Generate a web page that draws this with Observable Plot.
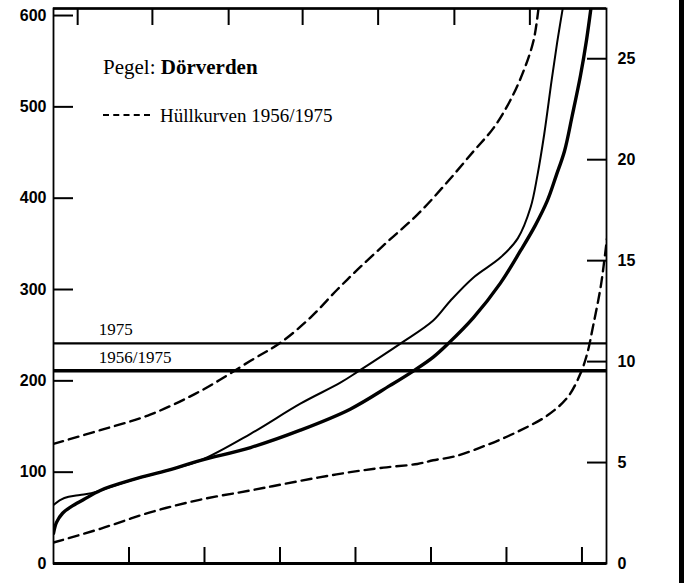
<!DOCTYPE html>
<html><head><meta charset="utf-8">
<script src="https://cdn.jsdelivr.net/npm/d3@7"></script>
<script src="https://cdn.jsdelivr.net/npm/@observablehq/plot@0.6"></script>
<style>
body{margin:0;background:#fff;}
#wrap{position:relative;width:689px;height:583px;overflow:hidden;background:#fff;}
#title{position:absolute;left:103px;top:57px;font-family:"Liberation Serif","Times New Roman",serif;font-size:21px;line-height:1;color:#000;white-space:nowrap;}
#legend{position:absolute;left:103px;top:106px;font-family:"Liberation Serif","Times New Roman",serif;font-size:19px;line-height:1;color:#000;white-space:nowrap;}
#legend .dash{display:inline-block;width:47px;margin-right:10px;vertical-align:0.3em;border-top:2px dashed #000;height:0;}
#bar{position:absolute;left:679px;top:0;width:5px;height:583px;background:#000;}
</style></head><body>
<div id="wrap">
  <div id="plot"></div>
  <div id="title">Pegel: <b>Dörverden</b></div>
  <div id="legend"><span class="dash"></span>Hüllkurven 1956/1975</div>
  <div id="bar"></div>
</div>
<script>
// Axis ticks
const leftTicks = [0, 100, 200, 300, 400, 500, 600];
const rightTicks = [0, 5, 10, 15, 20, 25];
const rightMax = 27.14;            // right-axis value at left-axis 600
const bottomTicks = [1, 2, 3, 4, 5, 6, 7];
const topTicks = [0.32, 1.31, 2.32, 3.30, 4.30, 5.31, 6.31];
const xMax = 7.325;
const yMax = 607.7;

// Reference levels
const refValues = [241, 211];
const refLabels = ["1975", "1956/1975"];
const refWidths = [2.4, 3.4];

// Upper envelope (dashed)
const upperX = [0, 0.62, 1.28, 1.95, 2.61, 3.01, 3.40, 3.76, 4.03, 4.42, 4.82, 5.22, 5.56, 5.83, 6.05, 6.23, 6.36, 6.43];
const upperY = [131, 146, 163, 189, 222, 242, 269, 300, 322, 352, 382, 418, 451, 477, 507, 540, 573, 612];

// Lower envelope (dashed)
const lowerX = [0, 0.62, 1.28, 1.95, 2.61, 3.05, 3.50, 3.93, 4.37, 4.82, 5.03, 5.30, 5.75, 6.19, 6.54, 6.81, 6.98, 7.07, 7.15, 7.25, 7.33];
const lowerY = [23, 38, 56, 70, 80, 87, 94, 100, 105, 109, 113, 117, 130, 146, 162, 182, 208, 230, 261, 304, 355];

// Thin curve
const thinX = [0, 0.10, 0.20, 0.35, 0.50, 0.62, 1.06, 1.51, 1.95, 2.61, 3.27, 3.80, 4.03, 4.60, 5.03, 5.26, 5.56, 5.92, 6.15, 6.32, 6.41, 6.50, 6.60, 6.68, 6.76];
const thinY = [64, 70, 73, 75, 77, 80, 92, 102, 113, 142, 175, 198, 210, 241, 266, 288, 313, 335, 356, 390, 425, 470, 530, 575, 615];

// Thick curve
const thickX = [0, 0.04, 0.12, 0.23, 0.40, 0.62, 1.06, 1.51, 1.95, 2.61, 3.27, 3.93, 4.46, 4.77, 5.03, 5.23, 5.56, 5.92, 6.19, 6.38, 6.54, 6.66, 6.77, 6.87, 6.98, 7.06, 7.13];
const thickY = [33, 45, 55, 62, 70, 80, 92, 102, 113, 127, 146, 169, 195, 211, 226, 241, 269, 307, 343, 370, 397, 425, 452, 490, 534, 573, 615];

const zip = (xs, ys) => xs.map((x, i) => ({x, y: ys[i]}));
const upper = zip(upperX, upperY);
const lower = zip(lowerX, lowerY);
const thin = zip(thinX, thinY);
const thick = zip(thickX, thickY);
const refs = refValues.map((v, i) => ({y: v, label: refLabels[i], w: refWidths[i]}));
const k = 600 / rightMax;

const chart = Plot.plot({
  width: 689,
  height: 583,
  marginLeft: 53,
  marginRight: 83,
  marginTop: 8,
  marginBottom: 20,
  style: {fontFamily: "'Liberation Sans', Arial, sans-serif", fontSize: "15px", color: "#000", background: "#fff"},
  x: {domain: [0, xMax], axis: null, label: null},
  y: {domain: [0, yMax], axis: null, label: null},
  marks: [
    Plot.ruleY(refs, {y: "y", strokeWidth: "w", stroke: "#000"}),
    Plot.text(refs, {y: "y", x: 0.60, text: "label", textAnchor: "start", lineAnchor: "bottom", dy: -8,
      fontFamily: "'Liberation Serif', 'Times New Roman', serif", fontSize: 17, fill: "#000"}),
    Plot.line(upper, {x: "x", y: "y", curve: "catmull-rom", stroke: "#000", strokeWidth: 2.4, strokeDasharray: "10,6", clip: true}),
    Plot.line(lower, {x: "x", y: "y", curve: "catmull-rom", stroke: "#000", strokeWidth: 2.4, strokeDasharray: "10,6", clip: true}),
    Plot.line(thin, {x: "x", y: "y", curve: "catmull-rom", stroke: "#000", strokeWidth: 2, clip: true}),
    Plot.line(thick, {x: "x", y: "y", curve: "catmull-rom", stroke: "#000", strokeWidth: 3.4, clip: true}),
    Plot.frame({stroke: "#000", strokeWidth: 1.8}),
    Plot.ruleY([0], {stroke: "#000", strokeWidth: 2.8}),
    Plot.ruleY([yMax], {stroke: "#000", strokeWidth: 2.6}),
    Plot.axisY(leftTicks, {anchor: "left", tickSize: -20, tickPadding: 27, strokeWidth: 2, fontSize: 16, fontWeight: "bold", label: null}),
    Plot.axisY(rightTicks.map(v => v * k), {anchor: "right", tickSize: -20, tickPadding: 31, strokeWidth: 2, fontSize: 16, fontWeight: "bold", label: null,
      tickFormat: d => String(Math.round(d / k))}),
    Plot.axisX(bottomTicks, {anchor: "bottom", tickSize: -16, strokeWidth: 2, tickFormat: () => "", label: null}),
    Plot.axisX(topTicks, {anchor: "top", tickSize: -16, strokeWidth: 2, tickFormat: () => "", label: null})
  ]
});
document.getElementById("plot").appendChild(chart);
</script>
</body></html>
